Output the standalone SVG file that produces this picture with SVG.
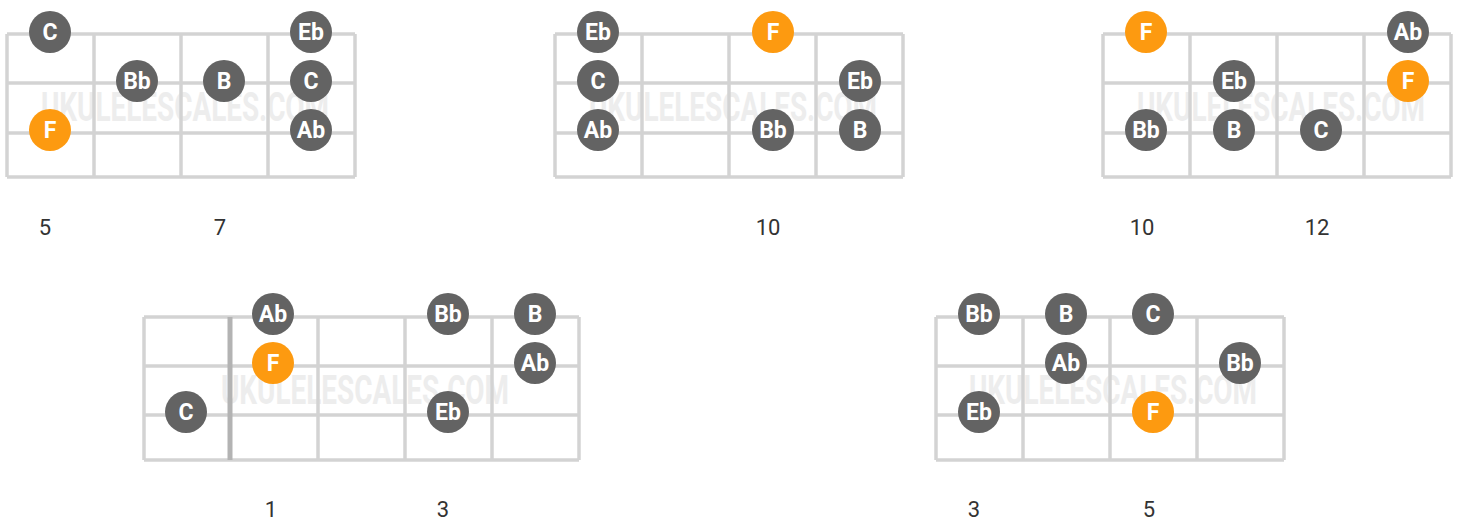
<svg xmlns="http://www.w3.org/2000/svg" width="1460" height="519" viewBox="0 0 1460 519">
<style>
.bg{fill:#ffffff}
.g line{stroke:#d3d3d3;stroke-width:3.5}
.g line.nut{stroke:#b3b3b3;stroke-width:5}
.wm{font-family:Roboto,"Liberation Sans",sans-serif;font-weight:bold;font-size:40px;fill:#ededed}
.dk{fill:#636363}
.rt{fill:#fd9a10}
.nl{font-family:Roboto,"Liberation Sans",sans-serif;font-weight:bold;font-size:23px;fill:#ffffff;text-anchor:middle}
.fr{font-family:Roboto,"Liberation Sans",sans-serif;font-size:22px;fill:#333333;text-anchor:middle}
</style>
<rect class="bg" x="0" y="0" width="1460" height="519"/>

<!-- Diagram 1 -->
<g id="diagram1">
<text class="wm" x="185" y="121" text-anchor="middle" textLength="288" lengthAdjust="spacingAndGlyphs">UKULELESCALES.COM</text>
<g class="g">
<line x1="7" y1="34" x2="355" y2="34"/><line x1="7" y1="83" x2="355" y2="83"/><line x1="7" y1="133" x2="355" y2="133"/><line x1="7" y1="177" x2="355" y2="177"/>
<line x1="7" y1="34" x2="7" y2="177"/><line x1="94" y1="34" x2="94" y2="177"/><line x1="181" y1="34" x2="181" y2="177"/><line x1="268" y1="34" x2="268" y2="177"/><line x1="355" y1="34" x2="355" y2="177"/>
</g>
<g id="d1-n1" transform="translate(50,32)"><circle r="21" class="dk"/><text class="nl" y="8">C</text></g>
<g id="d1-n2" transform="translate(311,32)"><circle r="21" class="dk"/><text class="nl" y="8">Eb</text></g>
<g id="d1-n3" transform="translate(137,81)"><circle r="21" class="dk"/><text class="nl" y="8">Bb</text></g>
<g id="d1-n4" transform="translate(224,81)"><circle r="21" class="dk"/><text class="nl" y="8">B</text></g>
<g id="d1-n5" transform="translate(311,81)"><circle r="21" class="dk"/><text class="nl" y="8">C</text></g>
<g id="d1-n6" transform="translate(50,130)"><circle r="21" class="rt"/><text class="nl" y="8">F</text></g>
<g id="d1-n7" transform="translate(311,130)"><circle r="21" class="dk"/><text class="nl" y="8">Ab</text></g>
<text class="fr" x="45" y="235">5</text>
<text class="fr" x="220" y="235">7</text>
</g>

<!-- Diagram 2 -->
<g id="diagram2">
<text class="wm" x="733" y="121" text-anchor="middle" textLength="288" lengthAdjust="spacingAndGlyphs">UKULELESCALES.COM</text>
<g class="g">
<line x1="555" y1="34" x2="903" y2="34"/><line x1="555" y1="83" x2="903" y2="83"/><line x1="555" y1="133" x2="903" y2="133"/><line x1="555" y1="177" x2="903" y2="177"/>
<line x1="555" y1="34" x2="555" y2="177"/><line x1="642" y1="34" x2="642" y2="177"/><line x1="729" y1="34" x2="729" y2="177"/><line x1="816" y1="34" x2="816" y2="177"/><line x1="903" y1="34" x2="903" y2="177"/>
</g>
<g id="d2-n1" transform="translate(598,32)"><circle r="21" class="dk"/><text class="nl" y="8">Eb</text></g>
<g id="d2-n2" transform="translate(773,32)"><circle r="21" class="rt"/><text class="nl" y="8">F</text></g>
<g id="d2-n3" transform="translate(598,81)"><circle r="21" class="dk"/><text class="nl" y="8">C</text></g>
<g id="d2-n4" transform="translate(860,81)"><circle r="21" class="dk"/><text class="nl" y="8">Eb</text></g>
<g id="d2-n5" transform="translate(598,130)"><circle r="21" class="dk"/><text class="nl" y="8">Ab</text></g>
<g id="d2-n6" transform="translate(773,130)"><circle r="21" class="dk"/><text class="nl" y="8">Bb</text></g>
<g id="d2-n7" transform="translate(860,130)"><circle r="21" class="dk"/><text class="nl" y="8">B</text></g>
<text class="fr" x="768" y="235">10</text>
</g>

<!-- Diagram 3 -->
<g id="diagram3">
<text class="wm" x="1281" y="121" text-anchor="middle" textLength="288" lengthAdjust="spacingAndGlyphs">UKULELESCALES.COM</text>
<g class="g">
<line x1="1103" y1="34" x2="1451" y2="34"/><line x1="1103" y1="83" x2="1451" y2="83"/><line x1="1103" y1="133" x2="1451" y2="133"/><line x1="1103" y1="177" x2="1451" y2="177"/>
<line x1="1103" y1="34" x2="1103" y2="177"/><line x1="1190" y1="34" x2="1190" y2="177"/><line x1="1277" y1="34" x2="1277" y2="177"/><line x1="1364" y1="34" x2="1364" y2="177"/><line x1="1451" y1="34" x2="1451" y2="177"/>
</g>
<g id="d3-n1" transform="translate(1146,32)"><circle r="21" class="rt"/><text class="nl" y="8">F</text></g>
<g id="d3-n2" transform="translate(1408,32)"><circle r="21" class="dk"/><text class="nl" y="8">Ab</text></g>
<g id="d3-n3" transform="translate(1234,81)"><circle r="21" class="dk"/><text class="nl" y="8">Eb</text></g>
<g id="d3-n4" transform="translate(1408,81)"><circle r="21" class="rt"/><text class="nl" y="8">F</text></g>
<g id="d3-n5" transform="translate(1146,130)"><circle r="21" class="dk"/><text class="nl" y="8">Bb</text></g>
<g id="d3-n6" transform="translate(1234,130)"><circle r="21" class="dk"/><text class="nl" y="8">B</text></g>
<g id="d3-n7" transform="translate(1321,130)"><circle r="21" class="dk"/><text class="nl" y="8">C</text></g>
<text class="fr" x="1142" y="235">10</text>
<text class="fr" x="1317" y="235">12</text>
</g>

<!-- Diagram 4 -->
<g id="diagram4">
<text class="wm" x="365" y="404" text-anchor="middle" textLength="288" lengthAdjust="spacingAndGlyphs">UKULELESCALES.COM</text>
<g class="g">
<line x1="144" y1="317" x2="579" y2="317"/><line x1="144" y1="366" x2="579" y2="366"/><line x1="144" y1="415" x2="579" y2="415"/><line x1="144" y1="460" x2="579" y2="460"/>
<line x1="144" y1="317" x2="144" y2="460"/><line class="nut" x1="230" y1="317" x2="230" y2="460"/><line x1="318" y1="317" x2="318" y2="460"/><line x1="405" y1="317" x2="405" y2="460"/><line x1="492" y1="317" x2="492" y2="460"/><line x1="579" y1="317" x2="579" y2="460"/>
</g>
<g id="d4-n1" transform="translate(273,314)"><circle r="21" class="dk"/><text class="nl" y="8">Ab</text></g>
<g id="d4-n2" transform="translate(448,314)"><circle r="21" class="dk"/><text class="nl" y="8">Bb</text></g>
<g id="d4-n3" transform="translate(535,314)"><circle r="21" class="dk"/><text class="nl" y="8">B</text></g>
<g id="d4-n4" transform="translate(273,363)"><circle r="21" class="rt"/><text class="nl" y="8">F</text></g>
<g id="d4-n5" transform="translate(535,363)"><circle r="21" class="dk"/><text class="nl" y="8">Ab</text></g>
<g id="d4-n6" transform="translate(186,412)"><circle r="21" class="dk"/><text class="nl" y="8">C</text></g>
<g id="d4-n7" transform="translate(448,412)"><circle r="21" class="dk"/><text class="nl" y="8">Eb</text></g>
<text class="fr" x="271" y="517">1</text>
<text class="fr" x="443" y="517">3</text>
</g>

<!-- Diagram 5 -->
<g id="diagram5">
<text class="wm" x="1113" y="404" text-anchor="middle" textLength="288" lengthAdjust="spacingAndGlyphs">UKULELESCALES.COM</text>
<g class="g">
<line x1="936" y1="317" x2="1284" y2="317"/><line x1="936" y1="366" x2="1284" y2="366"/><line x1="936" y1="415" x2="1284" y2="415"/><line x1="936" y1="460" x2="1284" y2="460"/>
<line x1="936" y1="317" x2="936" y2="460"/><line x1="1023" y1="317" x2="1023" y2="460"/><line x1="1110" y1="317" x2="1110" y2="460"/><line x1="1197" y1="317" x2="1197" y2="460"/><line x1="1284" y1="317" x2="1284" y2="460"/>
</g>
<g id="d5-n1" transform="translate(979,314)"><circle r="21" class="dk"/><text class="nl" y="8">Bb</text></g>
<g id="d5-n2" transform="translate(1066,314)"><circle r="21" class="dk"/><text class="nl" y="8">B</text></g>
<g id="d5-n3" transform="translate(1153,314)"><circle r="21" class="dk"/><text class="nl" y="8">C</text></g>
<g id="d5-n4" transform="translate(1066,363)"><circle r="21" class="dk"/><text class="nl" y="8">Ab</text></g>
<g id="d5-n5" transform="translate(1240,363)"><circle r="21" class="dk"/><text class="nl" y="8">Bb</text></g>
<g id="d5-n6" transform="translate(979,412)"><circle r="21" class="dk"/><text class="nl" y="8">Eb</text></g>
<g id="d5-n7" transform="translate(1153,412)"><circle r="21" class="rt"/><text class="nl" y="8">F</text></g>
<text class="fr" x="974" y="517">3</text>
<text class="fr" x="1149" y="517">5</text>
</g>
</svg>
